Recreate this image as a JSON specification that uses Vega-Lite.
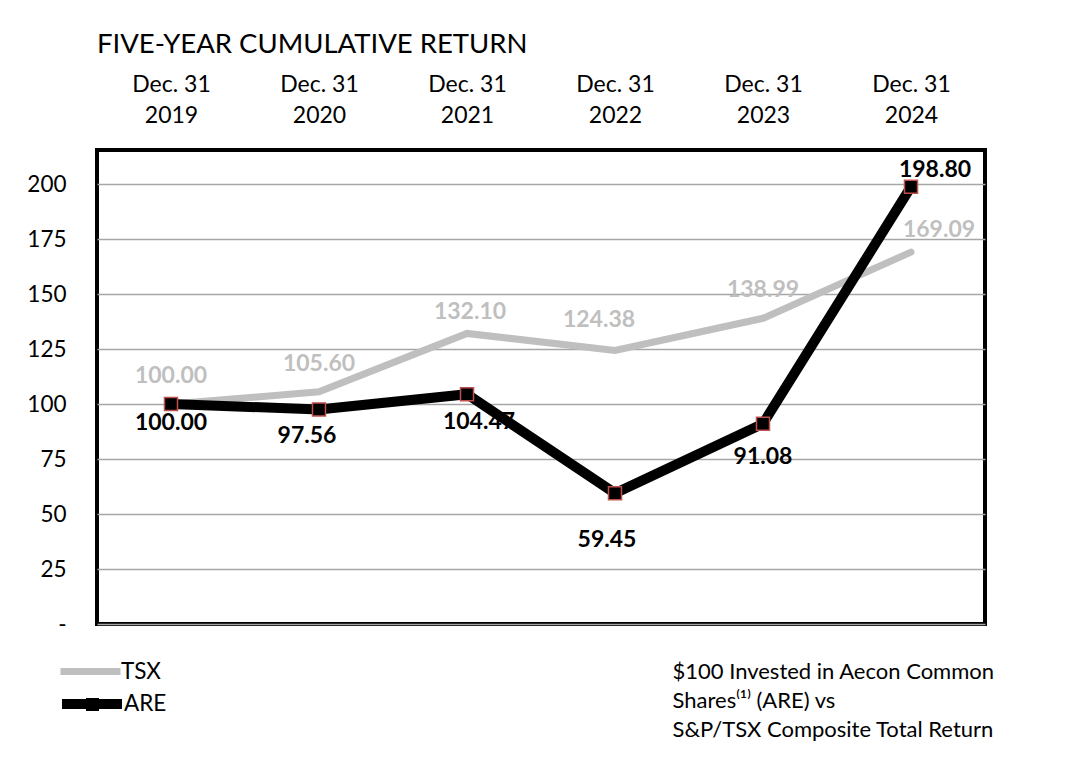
{
  "$schema": "https://vega.github.io/schema/vega-lite/v6.json",
  "width": 888,
  "height": 474,
  "autosize": {"type": "none"},
  "padding": {"left": 97, "top": 150, "right": 102, "bottom": 154},
  "background": "white",
  "title": {"text": "FIVE-YEAR CUMULATIVE RETURN", "anchor": "start", "frame": "group", "font": "Lato", "fontSize": 27.5, "fontWeight": "normal", "color": "#000000", "offset": 15},
  "data": {
    "values": [
      {"year": "2019", "series": "TSX", "value": 100.00},
      {"year": "2020", "series": "TSX", "value": 105.60},
      {"year": "2021", "series": "TSX", "value": 132.10},
      {"year": "2022", "series": "TSX", "value": 124.38},
      {"year": "2023", "series": "TSX", "value": 138.99},
      {"year": "2024", "series": "TSX", "value": 169.09},
      {"year": "2019", "series": "ARE", "value": 100.00},
      {"year": "2020", "series": "ARE", "value": 97.56},
      {"year": "2021", "series": "ARE", "value": 104.47},
      {"year": "2022", "series": "ARE", "value": 59.45},
      {"year": "2023", "series": "ARE", "value": 91.08},
      {"year": "2024", "series": "ARE", "value": 198.80}
    ]
  },
  "resolve": {"axis": {"x": "independent"}},
  "encoding": {
    "x": {"field": "year", "type": "nominal", "sort": null, "scale": {"type": "point", "padding": 0.5}, "axis": null},
    "y": {
      "field": "value", "type": "quantitative",
      "scale": {"domain": [0, 215.5], "nice": false, "zero": true},
      "axis": {
        "values": [0, 25, 50, 75, 100, 125, 150, 175, 200],
        "labelExpr": "datum.value == 0 ? '-' : datum.label",
        "grid": true, "gridColor": "#A6A6A6", "gridWidth": 1.5,
        "ticks": false, "domain": false,
        "labelFont": "Lato", "labelFontSize": 22.5, "labelPadding": 31, "labelColor": "#000000",
        "title": null
      }
    }
  },
  "layer": [
    {
      "mark": {"type": "line", "strokeCap": "round", "strokeJoin": "miter"},
      "encoding": {
        "x": {
          "field": "year", "type": "nominal", "sort": null, "scale": {"type": "point", "padding": 0.5},
          "axis": {
            "orient": "top", "title": null, "labelAngle": 0,
            "labelExpr": "['Dec. 31', datum.label]",
            "labelFont": "Lato", "labelFontSize": 23, "labelLineHeight": 31, "labelPadding": 54,
            "labelColor": "#000000", "ticks": false, "domain": false, "grid": false
          }
        },
        "color": {
          "field": "series", "type": "nominal",
          "scale": {"domain": ["TSX", "ARE"], "range": ["#BFBFBF", "#000000"]},
          "legend": {
            "values": ["TSX"], "title": null, "orient": "none", "legendX": -40, "legendY": 488,
            "padding": 0, "symbolType": "stroke", "symbolSize": 3600, "symbolStrokeWidth": 11,
            "labelOffset": -3, "labelFont": "Lato", "labelFontSize": 22.5, "labelColor": "#000000"
          }
        },
        "strokeWidth": {
          "field": "series", "type": "nominal",
          "scale": {"domain": ["TSX", "ARE"], "range": [7, 10]},
          "legend": null
        },
        "opacity": {
          "field": "series", "type": "nominal",
          "scale": {"domain": ["ARE", "TSX"], "range": [1, 1]},
          "legend": {
            "values": ["ARE"], "title": null, "orient": "none", "legendX": -40, "legendY": 519,
            "padding": 0, "symbolType": "stroke", "symbolSize": 3600, "symbolStrokeWidth": 10,
            "symbolStrokeColor": "#000000", "symbolOpacity": 1,
            "labelOffset": -3, "labelFont": "Lato", "labelFontSize": 22.5, "labelColor": "#000000"
          }
        }
      }
    },
    {
      "transform": [{"filter": "datum.series == 'ARE'"}],
      "mark": {"type": "point", "filled": true, "fill": "#000000", "stroke": "#C0504D", "strokeWidth": 1.5, "size": 169, "opacity": 1},
      "encoding": {
        "x": {
          "field": "year", "type": "nominal", "sort": null, "scale": {"type": "point", "padding": 0.5},
          "axis": {
            "orient": "bottom", "labels": false, "ticks": false, "domain": false, "grid": false,
            "title": ["$100 Invested in Aecon Common", "Shares⁽¹⁾ (ARE) vs", "S&P/TSX Composite Total Return"],
            "titleFont": "Lato", "titleFontSize": 22, "titleFontWeight": "normal", "titleColor": "#000000",
            "titleAlign": "left", "titleAnchor": "start", "titleX": 575, "titleY": 37,
            "titleBaseline": "top", "titleLineHeight": 29
          }
        },
        "shape": {
          "field": "series", "type": "nominal",
          "scale": {"domain": ["ARE"], "range": ["square"]},
          "legend": {
            "values": ["ARE"], "title": null, "orient": "none", "legendX": -12, "legendY": 547,
            "padding": 0, "symbolSize": 169, "symbolFillColor": "#000000", "symbolStrokeColor": "#C0504D",
            "symbolStrokeWidth": 1.5, "labelFontSize": 8, "labelOpacity": 0
          }
        }
      }
    },
    {
      "transform": [{"filter": "datum.series == 'TSX' && (datum.year == '2019' || datum.year == '2020' || datum.year == '2023')"}],
      "mark": {"type": "text", "font": "Lato", "fontSize": 23, "fontWeight": "bold", "color": "#BFBFBF", "baseline": "middle", "align": "center", "dy": -28},
      "encoding": {"text": {"field": "value", "type": "quantitative", "format": ".2f"}}
    },
    {
      "transform": [{"filter": "datum.series == 'TSX' && datum.year == '2021'"}],
      "mark": {"type": "text", "font": "Lato", "fontSize": 23, "fontWeight": "bold", "color": "#BFBFBF", "baseline": "middle", "align": "center", "dy": -21, "dx": 3},
      "encoding": {"text": {"field": "value", "type": "quantitative", "format": ".2f"}}
    },
    {
      "transform": [{"filter": "datum.series == 'TSX' && datum.year == '2022'"}],
      "mark": {"type": "text", "font": "Lato", "fontSize": 23, "fontWeight": "bold", "color": "#BFBFBF", "baseline": "middle", "align": "center", "dy": -30, "dx": -16},
      "encoding": {"text": {"field": "value", "type": "quantitative", "format": ".2f"}}
    },
    {
      "transform": [{"filter": "datum.series == 'TSX' && datum.year == '2024'"}],
      "mark": {"type": "text", "font": "Lato", "fontSize": 23, "fontWeight": "bold", "color": "#BFBFBF", "baseline": "middle", "align": "center", "dy": -22, "dx": 28},
      "encoding": {"text": {"field": "value", "type": "quantitative", "format": ".2f"}}
    },
    {
      "transform": [{"filter": "datum.series == 'ARE' && datum.year == '2019'"}],
      "mark": {"type": "text", "font": "Lato", "fontSize": 23, "fontWeight": "bold", "color": "#000000", "baseline": "middle", "align": "center", "dy": 19},
      "encoding": {"text": {"field": "value", "type": "quantitative", "format": ".2f"}}
    },
    {
      "transform": [{"filter": "datum.series == 'ARE' && datum.year == '2020'"}],
      "mark": {"type": "text", "font": "Lato", "fontSize": 23, "fontWeight": "bold", "color": "#000000", "baseline": "middle", "align": "center", "dy": 27, "dx": -12},
      "encoding": {"text": {"field": "value", "type": "quantitative", "format": ".2f"}}
    },
    {
      "transform": [{"filter": "datum.series == 'ARE' && datum.year == '2021'"}],
      "mark": {"type": "text", "font": "Lato", "fontSize": 23, "fontWeight": "bold", "color": "#000000", "baseline": "middle", "align": "center", "dy": 28, "dx": 12},
      "encoding": {"text": {"field": "value", "type": "quantitative", "format": ".2f"}}
    },
    {
      "transform": [{"filter": "datum.series == 'ARE' && datum.year == '2022'"}],
      "mark": {"type": "text", "font": "Lato", "fontSize": 23, "fontWeight": "bold", "color": "#000000", "baseline": "middle", "align": "center", "dy": 47, "dx": -8},
      "encoding": {"text": {"field": "value", "type": "quantitative", "format": ".2f"}}
    },
    {
      "transform": [{"filter": "datum.series == 'ARE' && datum.year == '2023'"}],
      "mark": {"type": "text", "font": "Lato", "fontSize": 23, "fontWeight": "bold", "color": "#000000", "baseline": "middle", "align": "center", "dy": 33},
      "encoding": {"text": {"field": "value", "type": "quantitative", "format": ".2f"}}
    },
    {
      "transform": [{"filter": "datum.series == 'ARE' && datum.year == '2024'"}],
      "mark": {"type": "text", "font": "Lato", "fontSize": 23, "fontWeight": "bold", "color": "#000000", "baseline": "middle", "align": "center", "dy": -17, "dx": 24},
      "encoding": {"text": {"field": "value", "type": "quantitative", "format": ".2f"}}
    }
  ],
  "config": {
    "view": {"stroke": "#000000", "strokeWidth": 4},
    "legend": {"orient": "none"}
  }
}
